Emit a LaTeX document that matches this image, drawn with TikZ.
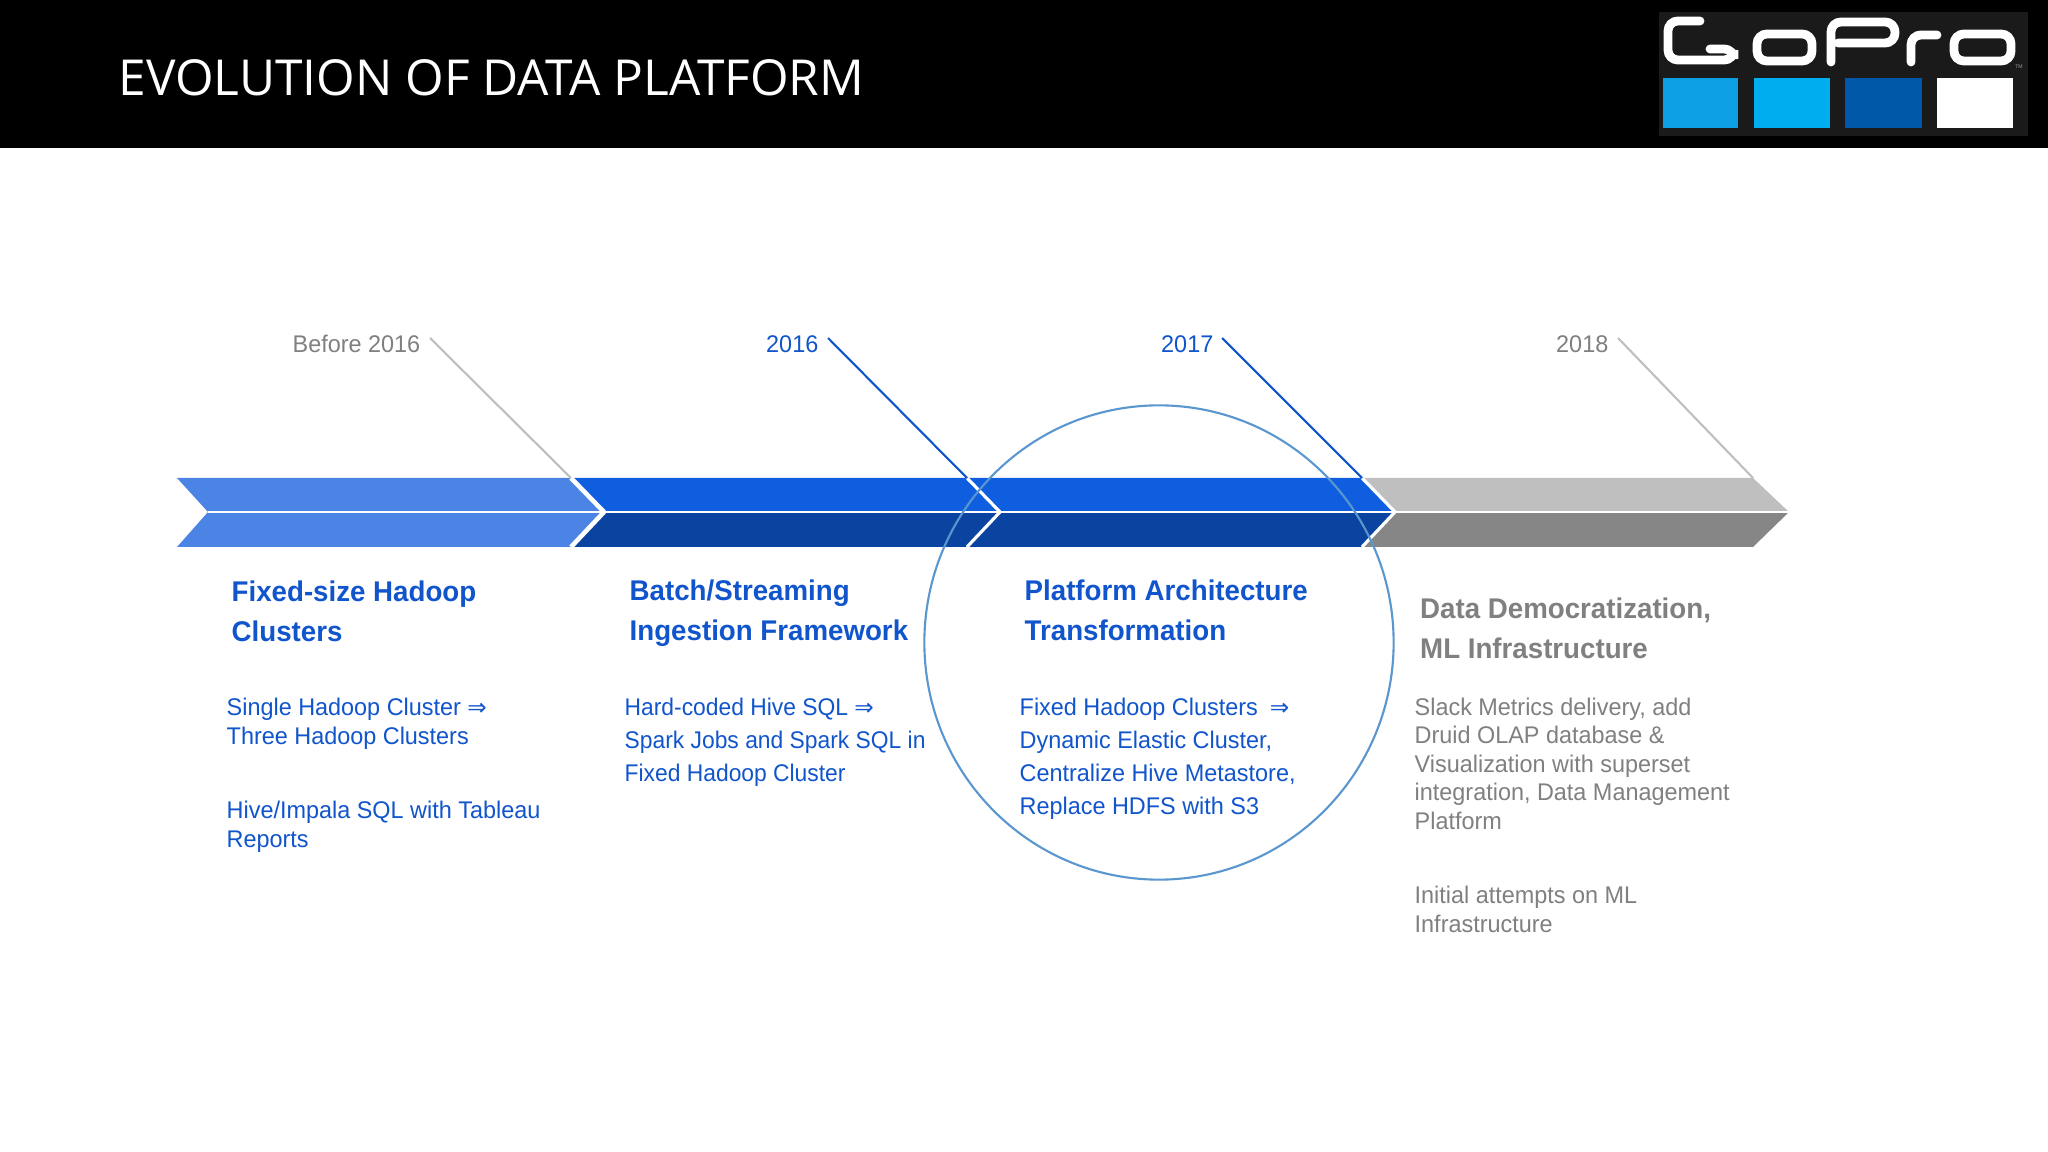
\documentclass[tikz,border=0pt]{standalone}
\usepackage{fontspec}
\setmainfont[FakeStretch=0.972]{Liberation Sans}
\newfontfamily\titlefont{Open Sans}
\newfontfamily\symfont{DejaVu Sans}
\newfontfamily\narrowfont[FakeStretch=0.948]{Liberation Sans}
\usetikzlibrary{positioning,shapes.geometric}
\definecolor{evoblue}{HTML}{1155CC}
\definecolor{evogray}{HTML}{808080}
\definecolor{lightseg}{HTML}{4C84E6}
\definecolor{midtop}{HTML}{0F5EDF}
\definecolor{midbot}{HTML}{0A44A0}
\definecolor{graytop}{HTML}{BFBFBF}
\definecolor{graybot}{HTML}{868686}
\definecolor{ringblue}{HTML}{5B97CF}
\definecolor{logoa}{HTML}{0D9FE4}
\definecolor{logob}{HTML}{00AEEF}
\definecolor{logoc}{HTML}{0059A8}
\definecolor{logobg}{HTML}{1A1A1A}
\newcommand{\arr}{{\symfont\fontsize{6.6}{6}\selectfont ⇒}}
\tikzset{
  head/.style={anchor=base west,inner sep=0pt,align=left,font=\bfseries\fontsize{8.1}{11.2}\selectfont},
  body/.style={anchor=base west,inner sep=0pt,align=left,font=\fontsize{6.85}{8.1}\selectfont},
  bodywide/.style={body,font=\fontsize{6.85}{9.35}\selectfont},
  year/.style={anchor=base east,inner sep=0pt,font=\fontsize{6.85}{8.2}\selectfont},
  leader/.style={line width=0.6pt},
  chevron/.style={draw=white,line width=#1},
  logoline/.style={white,line width=2.5pt,rounded corners=2.8pt,line cap=round},
}
\begin{document}
\begin{tikzpicture}[x=0.01cm,y=-0.01cm]
      \useasboundingbox (0,0) rectangle (2048,1152);
      \fill[white] (0,0) rectangle (2048,1152);
      \fill[black] (0,0) rectangle (2048,148);
      \node[anchor=base west,inner sep=0pt,white,font=\titlefont\fontsize{14.1}{16}\selectfont] (title) at (118,96) {EVOLUTION OF DATA PLATFORM};

      % logo
      \fill[logobg] (1659,12) rectangle (2028,136);
      \fill[logoa] (1663,78) rectangle (1738,128);
      \fill[logob] (1754,78) rectangle (1830,128);
      \fill[logoc] (1845,78) rectangle (1922,128);
      \fill[white] (1937,78) rectangle (2013,128);
      \draw[logoline] (1700,21) -- (1668,21) -- (1668,60) -- (1734,60) -- (1734,49) -- (1710,49);
      \draw[logoline] (1757,34) -- (1812,34) -- (1812,61) -- (1757,61) -- cycle;
      \draw[logoline] (1831,62) -- (1831,22) -- (1895,22) -- (1895,43) -- (1838,43);
      \draw[logoline] (1911,62) -- (1911,35) -- (1937,35);
      \draw[logoline] (1954,34) -- (2011,34) -- (2011,61) -- (1954,61) -- cycle;
      \node[inner sep=0pt,black!40,font=\fontsize{1.5}{2}\selectfont] (tm) at (2019,67) {TM};

      % timeline bar
      \coordinate (s1) at (177,478);
      \coordinate (s2) at (571,478);
      \coordinate (s3) at (967,478);
      \coordinate (s4) at (1362,478);
      \coordinate (s5) at (1753,478);
      \coordinate (b1) at (177,547);
      \coordinate (b2) at (571,547);
      \coordinate (b3) at (967,547);
      \coordinate (b4) at (1362,547);
      \coordinate (b5) at (1753,547);
      \coordinate (m1) at (208,512);
      \coordinate (m2) at (604,512);
      \coordinate (m3) at (1000,512);
      \coordinate (m4) at (1395,512);
      \coordinate (m5) at (1789,512);

      \fill[graytop] (s4) -- (s5) -- (m5) -- (m4) -- cycle;
      \fill[graybot] (b4) -- (b5) -- (m5) -- (m4) -- cycle;
      \fill[midtop] (s2) -- (s4) -- (m4) -- (m2) -- cycle;
      \fill[midbot] (b2) -- (b4) -- (m4) -- (m2) -- cycle;
      \fill[lightseg] (s1) -- (s2) -- (m2) -- (m1) -- cycle;
      \fill[lightseg] (b1) -- (b2) -- (m2) -- (m1) -- cycle;
      \draw[chevron=1.3pt] (s2) -- (m2) -- (b2);
      \draw[chevron=0.9pt] (s3) -- (m3) -- (b3);
      \draw[chevron=0.9pt] (s4) -- (m4) -- (b4);
      \draw[chevron=0.7pt] (m1) -- (m5);

      % years
      \node[year,evogray] (y1) at (421,353) {Before 2016};
      \node[year,evoblue] (y2) at (819,353) {2016};
      \node[year,evoblue] (y3) at (1214,353) {2017};
      \node[year,evogray] (y4) at (1609,353) {2018};
      \coordinate (l1) at (430,338);
      \coordinate (l2) at (828,338);
      \coordinate (l3) at (1222,338);
      \coordinate (l4) at (1618,338);
      \draw[leader,graytop] (l1) -- (s2);
      \draw[leader,evoblue] (l2) -- (s3);
      \draw[leader,evoblue] (l3) -- (s4);
      \draw[leader,graytop] (l4) -- (s5);

      \node[ellipse,draw=ringblue,line width=0.6pt,minimum width=4.69cm,minimum height=4.74cm,inner sep=0pt] (ring) at (1159,642.5) {};

      % columns, placed at the baseline of the last line
      \node[head,evoblue] (h1) at (231,641) {Fixed-size Hadoop\\Clusters};
      \node[head,evoblue] (h2) at (629,640) {Batch/Streaming\\Ingestion Framework};
      \node[head,evoblue] (h3) at (1024,640) {Platform Architecture\\Transformation};
      \node[head,evogray] (h4) at (1419.5,658) {Data Democratization,\\ML Infrastructure};

      \node[body,evoblue] (t1) at (226,744) {Single Hadoop Cluster \arr\\Three Hadoop Clusters};
      \node[body,evoblue] (t2) at (226,847) {Hive/Impala SQL with Tableau\\Reports};
      \node[bodywide,evoblue,font=\narrowfont\fontsize{6.85}{9.35}\selectfont] (t3) at (624,781) {Hard-coded Hive SQL \arr\\Spark Jobs and Spark SQL in\\Fixed Hadoop Cluster};
      \node[bodywide,evoblue] (t4) at (1019,814) {Fixed Hadoop Clusters\enspace\arr\\Dynamic Elastic Cluster,\\Centralize Hive Metastore,\\Replace HDFS with S3};
      \node[body,evogray] (t5) at (1414,829) {Slack Metrics delivery, add\\Druid OLAP database \&\\Visualization with superset\\integration, Data Management\\Platform};
      \node[body,evogray] (t6) at (1414,932) {Initial attempts on ML\\Infrastructure};
\end{tikzpicture}
\end{document}
